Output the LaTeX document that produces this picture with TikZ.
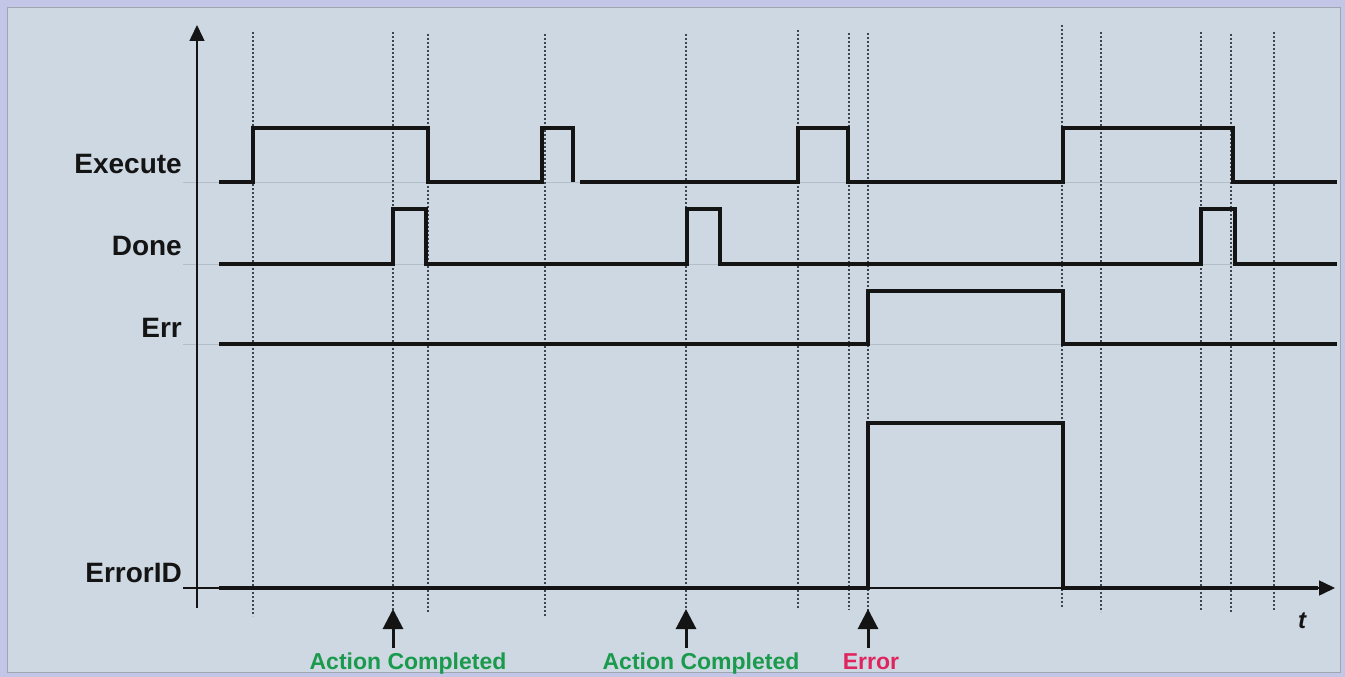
\documentclass[tikz,border=0pt]{standalone}
\usepackage{fontspec}
\setmainfont{Liberation Sans}
\usetikzlibrary{arrows.meta}
\definecolor{outerbg}{HTML}{C3C6E6}
\definecolor{panelbg}{HTML}{CDD8E2}
\definecolor{panelline}{HTML}{9EA6B0}
\definecolor{sig}{HTML}{141414}
\definecolor{dotc}{HTML}{3E454C}
\definecolor{faint}{HTML}{B4BEC6}
\definecolor{okgreen}{HTML}{1A9A4C}
\definecolor{errred}{HTML}{E0245E}
\tikzset{
  sigline/.style={draw=sig, line width=4.2pt, line join=miter},
  dotline/.style={draw=dotc, line width=2pt, dash pattern=on 1.8pt off 2.2pt},
  axisline/.style={draw=sig, line width=1.5pt},
  faintline/.style={draw=faint, line width=1pt},
  siglabel/.style={anchor=base east, inner sep=0pt, font=\fontsize{28}{30}\selectfont\bfseries, text=sig},
  eventlabel/.style={anchor=base, inner sep=0pt, font=\fontsize{23}{25}\selectfont\bfseries},
  eventarrow/.style={draw=sig, line width=3pt, -{Triangle[length=20pt,width=20pt]}},
}
\begin{document}
\begin{tikzpicture}[x=1pt,y=-1pt]
\useasboundingbox (0,0) rectangle (1345,677);
\fill[outerbg] (0,0) rectangle (1345,677);
\filldraw[fill=panelbg, draw=panelline, line width=1pt] (7,8) rectangle (1340,672);

% faint level lines
\foreach \yy in {182,264,344} \draw[faintline] (183,\yy) -- (1337,\yy);

% dotted time markers
\foreach \xx/\ya/\yb in {253/32/616, 393/32/610, 428/34/612, 545/34/616, 686/34/610, 798/30/608, 849/33/610, 868/33/612, 1062/25/607, 1101/32/612, 1201/32/610, 1231/34/612, 1274/32/610}
  \draw[dotline] (\xx,\ya) -- (\xx,\yb);

% axes
\coordinate (yb) at (197,608);
\coordinate (yt) at (197,25);
\coordinate (xl) at (183,588);
\coordinate (xr) at (1335,588);
\draw[axisline, -{Triangle[length=16pt,width=15pt]}] (yb) -- (yt);
\draw[axisline, -{Triangle[length=16pt,width=15pt]}] (xl) -- (xr);

% signals
\draw[sigline] (219,182) -- (253,182) -- (253,128) -- (428,128) -- (428,182) -- (542,182) -- (542,128) -- (573,128) -- (573,182);
\draw[sigline] (580,182) -- (798,182) -- (798,128) -- (848,128) -- (848,182) -- (1063,182) -- (1063,128) -- (1233,128) -- (1233,182) -- (1337,182);
\draw[sigline] (219,264) -- (393,264) -- (393,209) -- (426,209) -- (426,264) -- (687,264) -- (687,209) -- (720,209) -- (720,264) -- (1201,264) -- (1201,209) -- (1235,209) -- (1235,264) -- (1337,264);
\draw[sigline] (219,344) -- (868,344) -- (868,291) -- (1063,291) -- (1063,344) -- (1337,344);
\draw[sigline] (219,588) -- (868,588) -- (868,423) -- (1063,423) -- (1063,588) -- (1318,588);

% signal labels
\node[siglabel] (lexec) at (182,173) {Execute};
\node[siglabel] (ldone) at (182,255) {Done};
\node[siglabel] (lerr) at (182,337) {Err};
\node[siglabel] (lid) at (182,582) {ErrorID};
\node[anchor=base, inner sep=0pt, font=\fontsize{24}{26}\selectfont\bfseries\itshape, text=sig] (tl) at (1302,628) {t};

% event labels and arrows
\node[eventlabel, text=okgreen] (ac1) at (408,669) {Action Completed};
\node[eventlabel, text=okgreen] (ac2) at (701,669) {Action Completed};
\node[eventlabel, text=errred] (er) at (871,669) {Error};
\coordinate (a1t) at (393,609);
\coordinate (a2t) at (686,609);
\coordinate (a3t) at (868,609);
\draw[eventarrow] (393,648) -- (a1t);
\draw[eventarrow] (686,648) -- (a2t);
\draw[eventarrow] (868,648) -- (a3t);
\end{tikzpicture}
\end{document}
